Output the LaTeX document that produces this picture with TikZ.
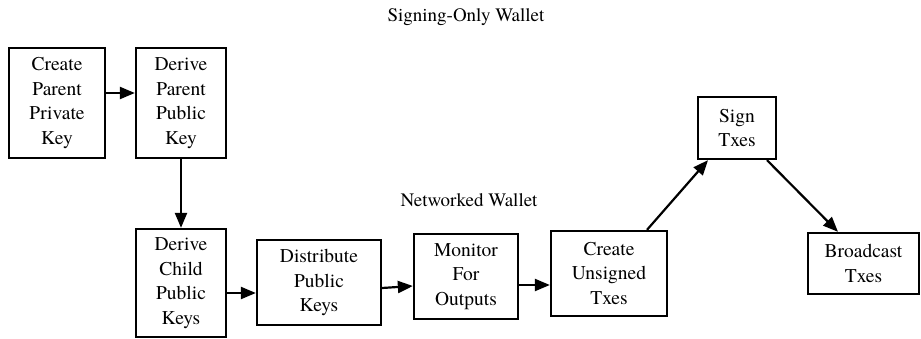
\documentclass[tikz,border=0pt]{standalone}
\usepackage{fontspec}
\setmainfont{texgyretermes}[Extension=.otf,UprightFont=*-regular,BoldFont=*-bold,ItalicFont=*-italic,BoldItalicFont=*-bolditalic]
\usetikzlibrary{arrows.meta}
\begin{document}
\begin{tikzpicture}[x=1pt,y=-1pt,
  box/.style={draw=black,line width=2.3pt,rectangle,inner sep=0pt,align=center,
    font=\fontsize{19.5}{24.5}\selectfont},
  lbl/.style={inner sep=0pt,font=\fontsize{19}{24.5}\selectfont},
  conn/.style={line width=2.2pt,-{Triangle[length=15pt,width=12pt]}}]
\useasboundingbox (0,0) rectangle (921,339);
\node[box,minimum width=96pt,minimum height=110pt] (b1) at (57,103) {Create\\Parent\\Private\\Key};
\node[box,minimum width=90pt,minimum height=110pt] (b2) at (181,103) {Derive\\Parent\\Public\\Key};
\node[box,minimum width=90pt,minimum height=108pt] (b3) at (181,283) {Derive\\Child\\Public\\Keys};
\node[box,minimum width=124pt,minimum height=85pt] (b4) at (319,282.5) {Distribute\\Public\\Keys};
\node[box,minimum width=104pt,minimum height=85pt] (b5) at (466,276.5) {Monitor\\For\\Outputs};
\node[box,minimum width=116pt,minimum height=85pt] (b6) at (609,273.5) {Create\\Unsigned\\Txes};
\node[box,minimum width=78pt,minimum height=62pt] (b7) at (737,128) {Sign\\Txes};
\node[box,minimum width=111pt,minimum height=61pt] (b8) at (863.5,263.5) {Broadcast\\Txes};
\node[lbl] (l1) at (466,17) {Signing-Only Wallet};
\node[lbl] (l2) at (469,200) {Networked Wallet};
\draw[conn] ([yshift=10pt]b1.east) -- ([yshift=10pt]b2.west);
\draw[conn] (b2.south) -- (b3.north);
\draw[conn] ([yshift=-10pt]b3.east) -- ([yshift=-10.5pt]b4.west);
\draw[conn] ([yshift=-5.5pt]b4.east) -- ([yshift=-9.5pt]b5.west);
\draw[conn] ([yshift=-8.5pt]b5.east) -- ([yshift=-11.5pt]b6.west);
\draw[conn] ([xshift=38pt]b6.north) -- ([xshift=-29pt]b7.south);
\draw[conn] ([xshift=30pt]b7.south) -- ([xshift=-25.5pt]b8.north);
\end{tikzpicture}
\end{document}
